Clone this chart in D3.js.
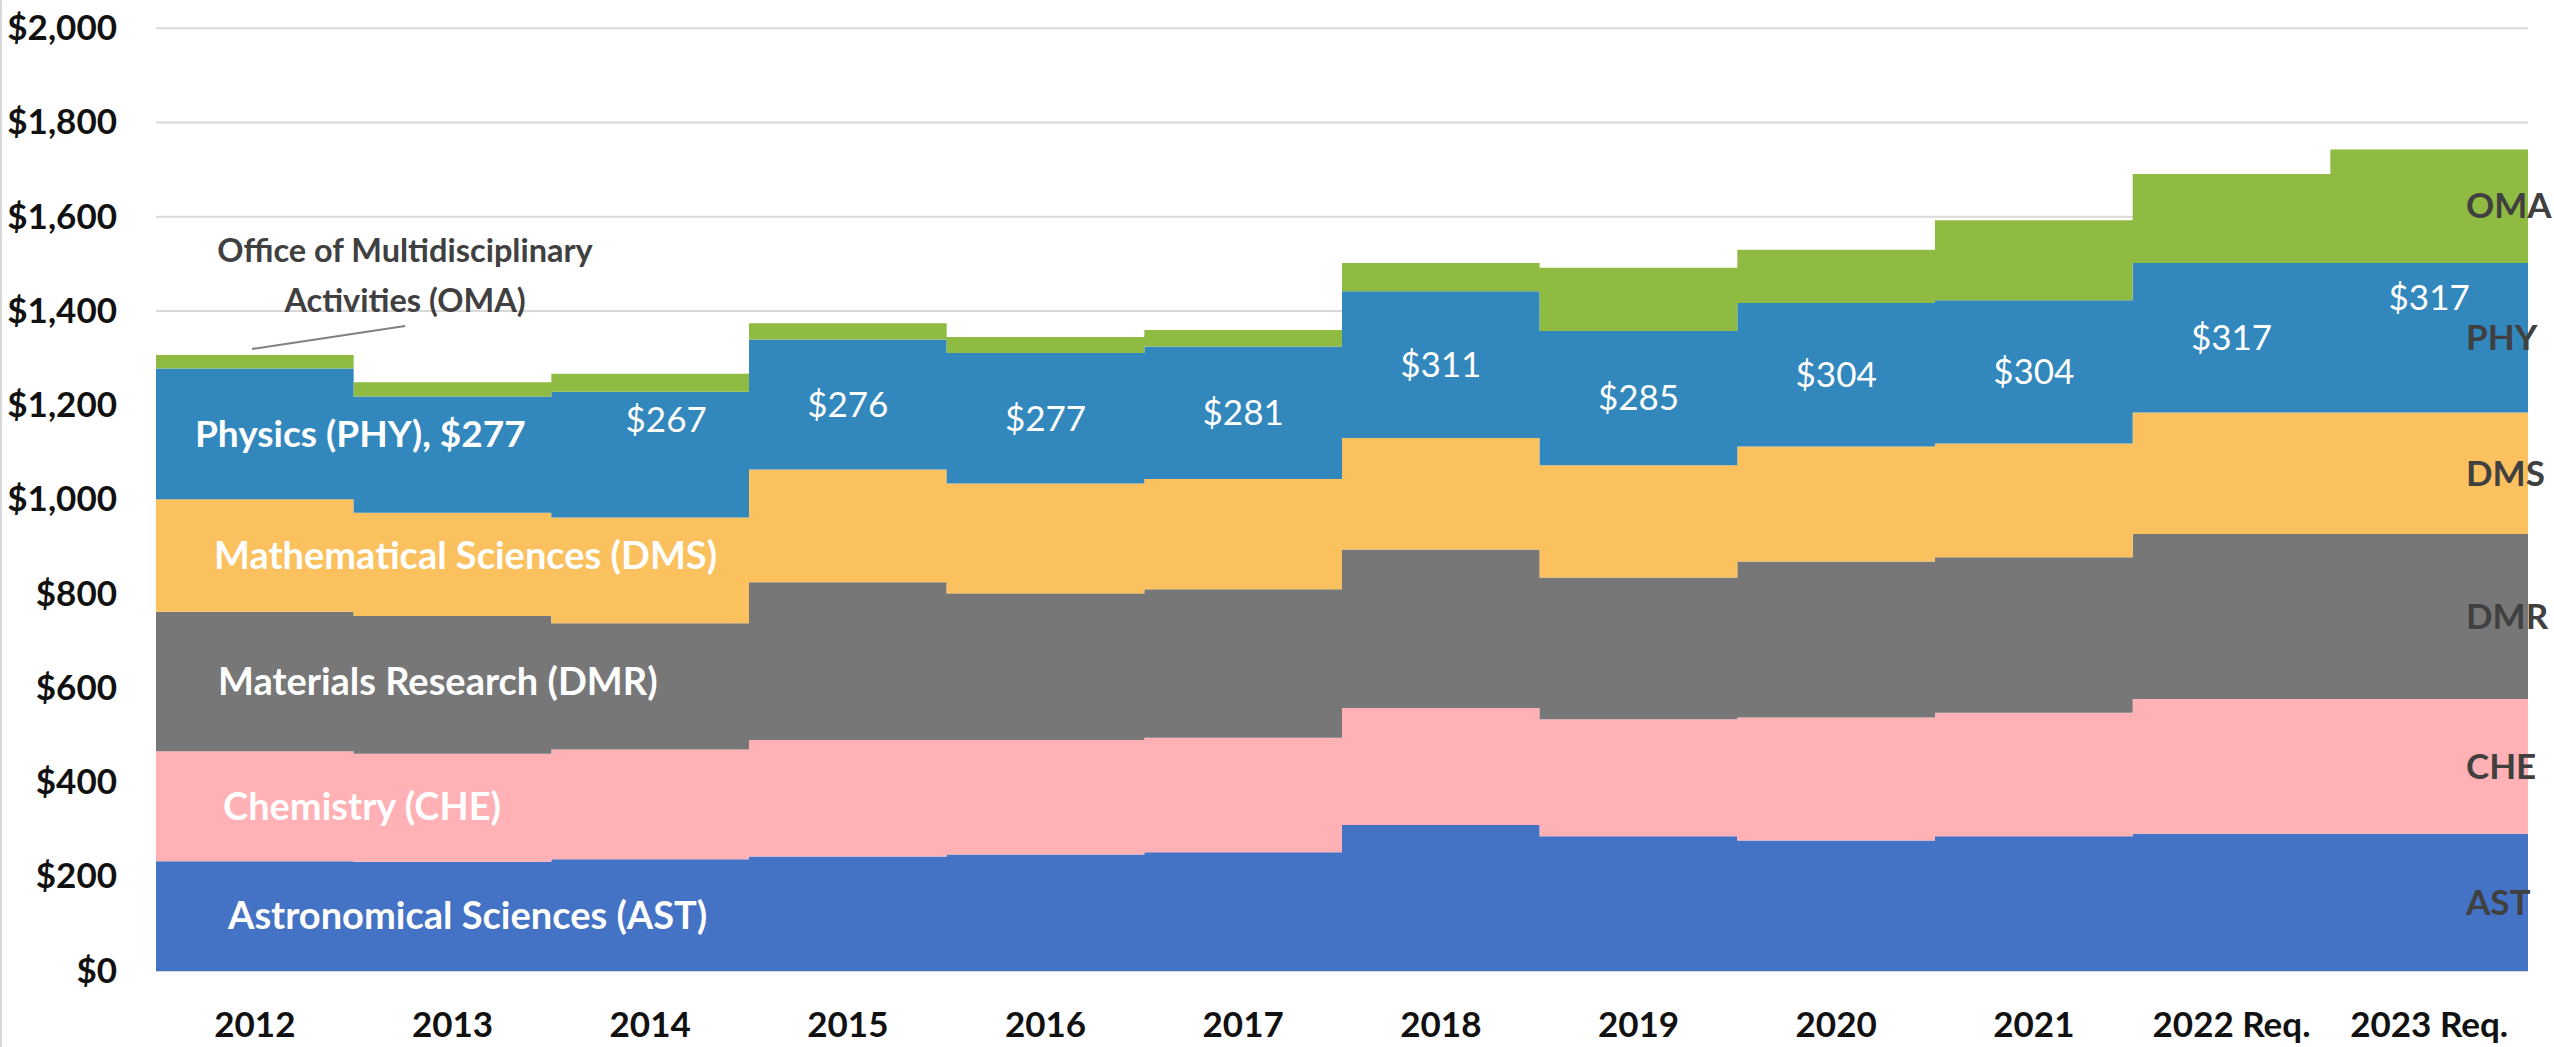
<!DOCTYPE html>
<html lang="en">
<head>
    <meta charset="UTF-8">
    <title>MPS Division Budgets</title>
    <script src="https://d3js.org/d3.v7.min.js"></script>
    <style>
        body { margin: 0; background: #fff; }
        svg text { font-family: Lato, "Open Sans", sans-serif; }
    </style>
</head>
<body>
    <div id="chart"></div>

    <script>
        // Fiscal years on the category axis
        const years = ["2012", "2013", "2014", "2015", "2016", "2017", "2018", "2019", "2020", "2021", "2022 Req.", "2023 Req."];

        // Division budgets, $M
        const ast = [233, 232, 237, 243, 247, 252, 310, 286, 277, 286, 291, 291];
        const che = [233, 229, 233, 247, 243, 243, 248, 248, 261, 262, 286, 286];
        const dmr = [296, 292, 268, 335, 311, 315, 336, 301, 331, 330, 350, 350];
        const dms = [239, 219, 224, 239, 233, 234, 237, 238, 244, 241, 258, 258];
        const phy = [277, 247, 267, 276, 277, 281, 311, 285, 304, 304, 317, 317];
        const oma = [29, 30, 38, 34, 34, 35, 60, 134, 113, 170, 189, 241];

        const yTicks = [0, 200, 400, 600, 800, 1000, 1200, 1400, 1600, 1800, 2000];

        const seriesKeys = ["AST", "CHE", "DMR", "DMS", "PHY", "OMA"];
        const seriesNames = ["Astronomical Sciences (AST)", "Chemistry (CHE)", "Materials Research (DMR)",
                             "Mathematical Sciences (DMS)", "Physics (PHY), $277", ""];
        const colors = ["#4472c4", "#ffb1b5", "#777777", "#fbc15e", "#3288bd", "#8fbb42"];

        const W = 2554, H = 1047;
        const plotLeft = 156, plotRight = 2528, plotTop = 28.3, plotBottom = 971;

        const svg = d3.select("#chart").append("svg")
            .attr("width", W)
            .attr("height", H);

        // build rows for d3.stack
        const rows = years.map((yr, i) => ({
            year: yr, AST: ast[i], CHE: che[i], DMR: dmr[i], DMS: dms[i], PHY: phy[i], OMA: oma[i]
        }));
        const stacked = d3.stack().keys(seriesKeys)(rows);

        const x = d3.scaleBand().domain(years).range([plotLeft, plotRight]).padding(0);
        const y = d3.scaleLinear().domain([0, 2000]).range([plotBottom, plotTop]);

        // faint border on the left edge
        svg.append("line")
            .attr("x1", 1).attr("x2", 1).attr("y1", 0).attr("y2", H)
            .attr("stroke", "#d9d9d9").attr("stroke-width", 2);

        // gridlines
        svg.append("g")
            .selectAll("line")
            .data(yTicks)
            .enter().append("line")
            .attr("x1", plotLeft).attr("x2", plotRight)
            .attr("y1", d => y(d)).attr("y2", d => y(d))
            .attr("stroke", "#d9d9d9")
            .attr("stroke-width", 2);

        // step areas: each year fills its whole band
        const area = d3.area()
            .curve(d3.curveStepAfter)
            .x((d, i) => i < years.length ? x(years[i]) : plotRight)
            .y0(d => y(d[0]))
            .y1(d => y(d[1]));

        svg.append("g")
            .selectAll("path")
            .data(stacked)
            .enter().append("path")
            .attr("fill", (d, i) => colors[i])
            .attr("d", s => area(s.concat([s[s.length - 1]])));

        // y axis
        const yAxis = svg.append("g")
            .attr("transform", `translate(${plotLeft},0)`)
            .call(d3.axisLeft(y).tickValues(yTicks).tickSize(0).tickPadding(39)
                .tickFormat(d => "$" + d3.format(",")(d)));
        yAxis.select(".domain").remove();
        yAxis.selectAll("text")
            .attr("font-size", 35)
            .attr("font-weight", "bold")
            .attr("fill", "#111");

        // x axis
        const xAxis = svg.append("g")
            .attr("transform", `translate(0,${plotBottom})`)
            .call(d3.axisBottom(x).tickSize(0).tickPadding(41));
        xAxis.select(".domain").remove();
        xAxis.selectAll("text")
            .attr("font-size", 35)
            .attr("font-weight", "bold")
            .attr("fill", "#111");

        const mid = s => (s[0] + s[1]) / 2;

        // long series names on the first year
        const nameDx = [72, 67, 62, 58, 39];
        svg.append("g")
            .selectAll("text")
            .data(stacked.slice(0, 5))
            .enter().append("text")
            .attr("x", (s, i) => x(years[0]) + nameDx[i])
            .attr("y", s => y(mid(s[0])))
            .attr("dy", "0.35em")
            .attr("font-size", (s, i) => i === 4 ? 37 : 38)
            .attr("font-weight", "bold")
            .attr("fill", "#fff")
            .text((s, i) => seriesNames[i]);

        // physics values per year
        const phySeries = stacked[4];
        const nudge = { "2014": [16, -35], "2023 Req.": [0, -40] };
        svg.append("g")
            .selectAll("text")
            .data(years.slice(2))
            .enter().append("text")
            .attr("x", yr => x(yr) + x.bandwidth() / 2 + (nudge[yr] ? nudge[yr][0] : 0))
            .attr("y", yr => y(mid(phySeries[years.indexOf(yr)])) + (nudge[yr] ? nudge[yr][1] : 0))
            .attr("dy", "0.35em")
            .attr("text-anchor", "middle")
            .attr("font-size", 35)
            .attr("fill", "#fff")
            .text(yr => "$" + phy[years.indexOf(yr)]);

        // short names at the right end
        const last = years.length - 1;
        svg.append("g")
            .selectAll("text")
            .data(stacked)
            .enter().append("text")
            .attr("x", plotRight - 62)
            .attr("y", s => y(mid(s[last])))
            .attr("dy", "0.35em")
            .attr("font-size", 35)
            .attr("font-weight", "bold")
            .attr("fill", "#404040")
            .text(s => s.key);

        // OMA callout
        const omaTop = y(stacked[5][0][1]);
        const callX = x(years[0]) + x.bandwidth() * 1.26;
        svg.append("line")
            .attr("x1", callX).attr("y1", omaTop - 29)
            .attr("x2", x(years[0]) + 96).attr("y2", omaTop - 6)
            .attr("stroke", "#808080")
            .attr("stroke-width", 2);
        const call = svg.append("text")
            .attr("text-anchor", "middle")
            .attr("font-size", 32.5)
            .attr("font-weight", "bold")
            .attr("fill", "#404040");
        call.append("tspan").attr("x", callX).attr("y", 262).text("Office of Multidisciplinary");
        call.append("tspan").attr("x", callX).attr("y", 312).text("Activities (OMA)");
    </script>
</body>
</html>
